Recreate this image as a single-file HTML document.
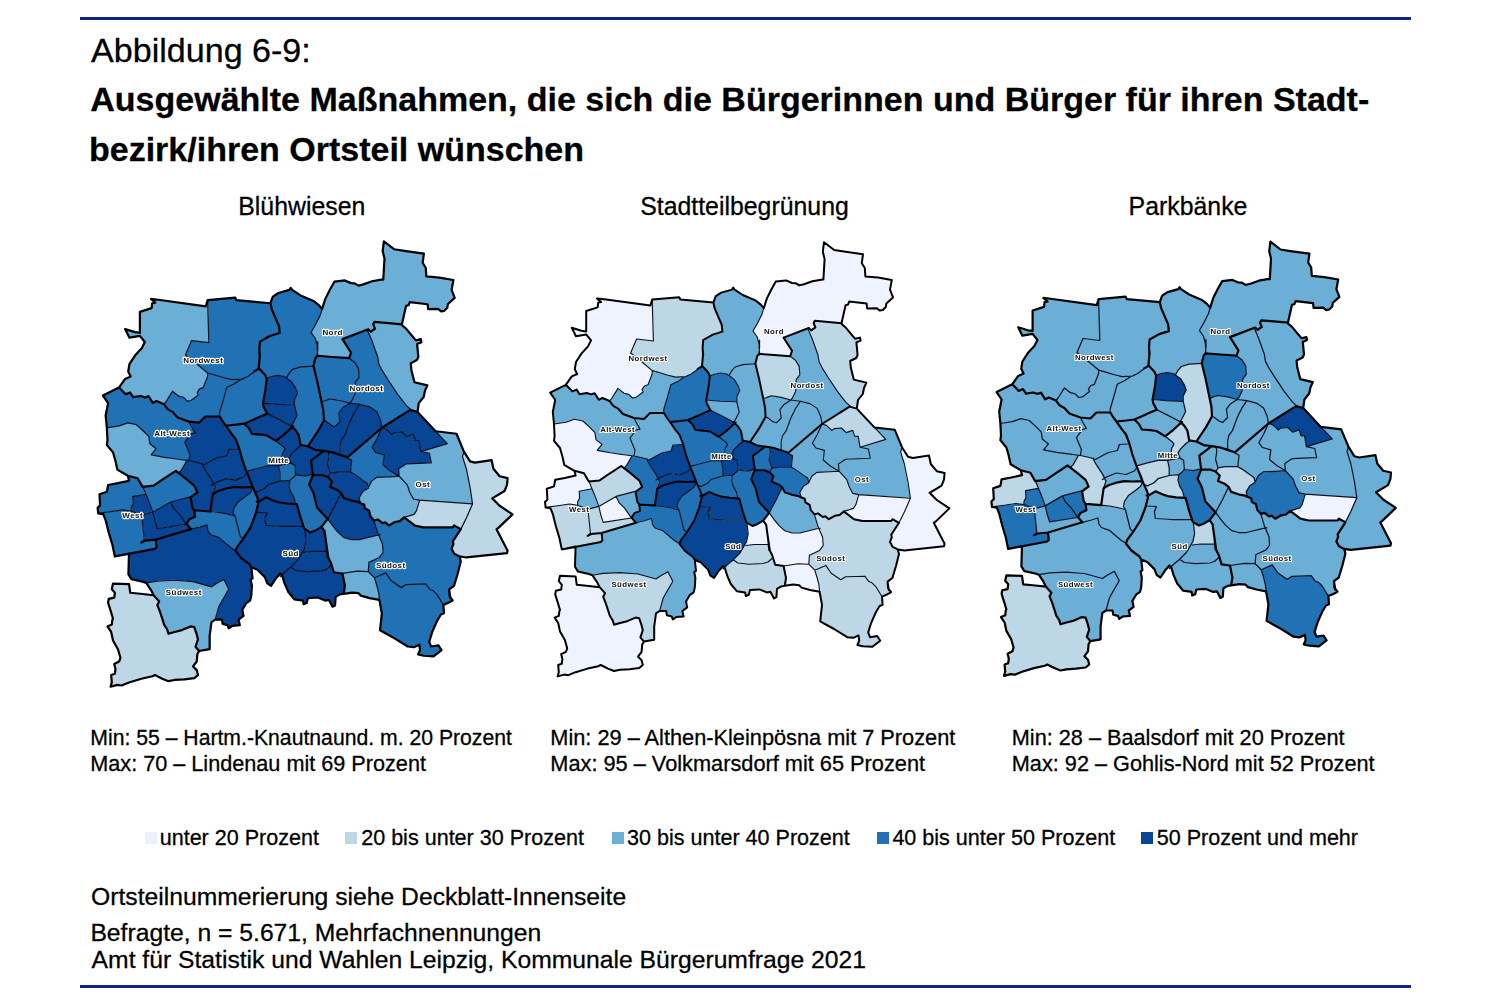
<!DOCTYPE html>
<html lang="de"><head><meta charset="utf-8"><title>Abbildung 6-9</title>
<style>
html,body{margin:0;padding:0;background:#fff;}
body{width:1500px;height:1000px;position:relative;overflow:hidden;font-family:"Liberation Sans",sans-serif;color:#000;}
.rule{position:absolute;left:80px;width:1330.5px;height:3.1px;background:#0f2380;}
.t{position:absolute;white-space:nowrap;line-height:1;-webkit-text-stroke:0.28px #000;}
.h1{font-size:34.1px;left:91px;}
.h2{font-size:34px;font-weight:bold;}
.mt{font-size:24.85px;text-align:center;width:400px;}
.cap{font-size:21.65px;}
.leg{font-size:21.55px;top:827.2px;}
.ft{font-size:24.7px;left:91px;}
.sw{position:absolute;width:12px;height:12px;top:832.3px;}
svg{position:absolute;left:0;top:0;filter:blur(0.35px);}
.lb text{font:bold 7.8px "Liberation Sans",sans-serif;letter-spacing:0.42px;fill:#111;text-anchor:middle;dominant-baseline:central;stroke:#fff;stroke-width:2.2px;paint-order:stroke;stroke-linejoin:round;}
</style></head><body>
<div class="rule" style="top:16.8px"></div>
<div class="rule" style="top:984.5px"></div>
<div class="t h1" style="top:32.7px">Abbildung 6-9:</div>
<div class="t h2" style="left:90.3px;top:82.2px">Ausgewählte Maßnahmen, die sich die Bürgerinnen und Bürger für ihren Stadt-</div>
<div class="t h2" style="left:89px;top:132.2px">bezirk/ihren Ortsteil wünschen</div>
<div class="t mt" style="left:101.8px;top:195.3px">Blühwiesen</div>
<div class="t mt" style="left:544.5px;top:195.3px">Stadtteilbegrünung</div>
<div class="t mt" style="left:988px;top:195.3px">Parkbänke</div>
<div class="t cap" style="left:90.3px;top:726.9px;font-size:21.2px">Min: 55 – Hartm.-Knautnaund. m. 20 Prozent</div>
<div class="t cap" style="left:90.3px;top:752.9px">Max: 70 – Lindenau mit 69 Prozent</div>
<div class="t cap" style="left:550.3px;top:726.9px;font-size:21.76px">Min: 29 – Althen-Kleinpösna mit 7 Prozent</div>
<div class="t cap" style="left:550.3px;top:752.9px;font-size:21.76px">Max: 95 – Volkmarsdorf mit 65 Prozent</div>
<div class="t cap" style="left:1011.8px;top:726.9px;font-size:21.7px">Min: 28 – Baalsdorf mit 20 Prozent</div>
<div class="t cap" style="left:1011.8px;top:752.9px;font-size:21.7px">Max: 92 – Gohlis-Nord mit 52 Prozent</div>
<div class="sw" style="left:145px;background:#eef1fd"></div>
<div class="t leg" style="left:159.7px">unter 20 Prozent</div>
<div class="sw" style="left:345.3px;background:#bdd7e7"></div>
<div class="t leg" style="left:361.2px">20 bis unter 30 Prozent</div>
<div class="sw" style="left:611.5px;background:#6baed6"></div>
<div class="t leg" style="left:627px;">30 bis unter 40 Prozent</div>
<div class="sw" style="left:876.7px;background:#2171b5"></div>
<div class="t leg" style="left:892.4px">40 bis unter 50 Prozent</div>
<div class="sw" style="left:1140.7px;background:#084594"></div>
<div class="t leg" style="left:1156.8px">50 Prozent und mehr</div>
<div class="t ft" style="top:885.3px">Ortsteilnummerierung siehe Deckblatt-Innenseite</div>
<div class="t ft" style="top:921px;left:90.4px">Befragte, n = 5.671, Mehrfachnennungen</div>
<div class="t ft" style="top:948.3px;left:91.6px">Amt für Statistik und Wahlen Leipzig, Kommunale Bürgerumfrage 2021</div>
<svg width="1500" height="1000" viewBox="0 0 1500 1000">
<defs>
<path id="r2" d="M891.5,280 879,277.8 866,276.8 865,274.5 864.5,267.5 861.5,263 862.5,254.2 834.5,250.2 825,243 824,243 823,252.8 824.8,261 823.5,279.5 812.8,281.2 800.2,285.5 799,285.5 796,283.5 792.2,283.2 786.5,280.5 776.2,281.5 775.2,282.2 767,298 762.5,313.5 757.2,324 753.2,330.5 753.2,331.5 757.5,337.2 758.2,341 759.8,340.5 759.8,353.5 790.2,356 791.8,350.2 784.5,339.2 783.8,337.2 808.2,328 810.5,330 812,330 815,327.8 813.5,323 815.2,320.5 841.5,323 845.2,305.8 845.8,305 848,304.2 849.2,301.5 866,303.5 866.8,304.2 867.5,308.2 876.5,308 879.5,310.2 883.2,309.8 885.5,307.5 886.2,304 892.5,298 892.5,296.2 890,290Z"/>
<path id="r3" d="M733.8,288.2 732.8,288.2 731.8,289.8 721.5,292.5 715.8,296.5 713.8,302 714.5,308 721.8,324.5 722.8,331 721.8,332 712.2,334.8 703.5,340 702.8,346 703.5,354.5 702.2,366.2 708.2,372.5 709.5,375.5 720.5,372.8 725.8,373.5 729.2,375 731.2,371.5 735.8,366.5 742.8,364.2 755.5,363.5 757,356.5 758.8,354.2 759,346.5 757.5,338 753,330.8 756.8,324.8 761.8,314.8 763.5,307.8 760.8,304.5 755.5,300.5 742.5,295 735.2,290Z"/>
<path id="r4" d="M652.5,299.8 653.8,340.5 653,341.2 636.5,339.2 631.2,351.2 631,353.2 652.2,370.8 674.5,376.8 686.2,376.5 692,373.5 697.2,369.8 697.5,368.5 701.8,365.8 702.8,356.8 702.2,347 703.2,340 713.5,334 722.2,331.5 721.5,324.5 714.2,308 713.5,302.8 682.5,300 680.5,299.5 679.2,297.5Z"/>
<path id="r5" d="M599,299 599,300 601,302 598.5,302.5 597.2,307.8 586.5,311 586.5,331 586,331.5 581.5,331 572.8,328.5 572.8,329.8 576,336 586.2,334.5 591,340.8 588.2,346.2 581.8,353 576.2,361.5 575,369.8 577.2,374 571.8,376.5 566,384.2 566,385.2 572,391.2 576.5,389.5 579.2,394 586.8,392.8 590.5,394.2 594.5,393.2 598.5,399.2 603,398 607.8,400.2 610,400.5 618,388.5 623.8,393 628.5,394.2 632,397.8 636.2,397.2 642.8,392.2 642,389.5 644.2,386.2 648,384.5 652,374.5 652,370.5 631.2,353.8 630.5,352.5 636.5,339 653.2,340.8 652.2,304.2 651,304 650.5,305.5Z"/>
<path id="r6" d="M814.8,321 813.8,323.8 815.5,327.5 811.5,330.5 809.2,328.2 808.2,328.2 808.2,329.5 812.5,339 818.2,355 819.2,362 827.8,377 837.8,392 845.2,401.8 850.5,406.8 856.8,408.2 857.8,400.2 862.5,394.5 863.8,388.2 866,382.5 855,380 853.5,379 850.5,367.2 850,361.5 850.5,360.8 856.2,358 857.2,356 856.2,343 860.2,340.5 860,338 855.5,338.8 841.5,323.5Z"/>
<path id="r7" d="M806.2,329 784.2,337.2 784.2,338.8 792,350.8 790.8,356.5 795.8,360.8 799.5,366.8 800,374.5 796.5,379 795.8,391.2 791.5,398.8 791.5,400 800.2,401 809.8,403.2 816.8,408 820.8,416.2 822,423.2 823.2,423.2 849.5,406.5 849.5,405.5 845.8,402.2 837.2,391.2 821.8,367.2 818.8,361.2 817.8,354.5 811.2,336.5 808,329.2Z"/>
<path id="r8" d="M758.2,354.8 757.2,356.2 755.8,364.8 763.2,398.2 771.8,395.5 781.2,397 789.2,399.5 791,399.5 795.2,392 796,379.8 799.5,375.2 799,366 795.8,360.8 790.5,356.5 761,354Z"/>
<path id="r9" d="M755.5,364 742.2,364.8 735.2,367 731.8,370.8 729.5,374.5 729.5,375.8 734.8,379.8 738.5,386.2 739.8,390 737,396 737,402.8 739.2,412.2 734.2,421.2 734,422.8 734.8,422.8 735,423.8 738.2,426.8 741.2,431.5 742.8,440.5 750.2,441.8 759.2,428 765.2,417.2 764.8,406.2Z"/>
<path id="r10" d="M703.2,367 701.5,367.2 691.5,374 684.5,377 678.2,381.2 670.8,385 668,396.2 663.8,409.5 664,413 669.8,421.8 688.5,419.8 710,410.2 710,409.2 706.5,403.2 706,400.2 708.2,388 709.5,375.5 707.8,371.8Z"/>
<path id="r11" d="M683,377 675.8,377.2 654.2,371.2 652.5,371.2 652.5,373.8 648.2,384.5 644,386.5 642.2,389 643.2,392 636.2,397.5 632.5,398 629.2,394.8 624.2,393.5 619,389.2 617.5,389.2 612.2,397.8 609.8,400.5 609.8,401.5 613.2,405.8 617.8,408.2 622.8,413.8 633.5,417.8 644.5,418.8 650.5,412.8 663.5,412.8 663.2,410 666.8,399.5 670.5,385 683,378Z"/>
<path id="r12" d="M710,376 706.5,399.8 718.2,401 736.5,401.5 736.5,396.8 739.5,391 737.8,385 734.5,379.5 728.2,375 725.5,373.8 719.5,373.2Z"/>
<path id="r13" d="M550.8,392.2 551,393.8 555.2,400 553,411 554.2,423.8 565.5,422.2 574.5,419 582.2,420.8 595,433 596.2,439.8 602,444.5 598.5,448.8 598,450.5 618.8,454 634,455.8 634.8,449.5 630,438 635.8,430.2 639.5,429 639.5,428 633.8,418 623.2,414.2 618,408.5 613.5,406 609.5,401 603,398.2 598.8,399.8 594.8,393.8 591,394.8 587.2,393.2 579.5,394.2 576.8,390 575.5,390 572.8,391.5 566.2,385 565.2,385Z"/>
<path id="r14" d="M763.5,398.8 765.2,407.2 765.8,416.8 772,421 777,422.5 781,418.5 779.8,409.8 783.2,405 789.2,401 789.5,399.8 780.8,397.2 772.8,396 770,396.2Z"/>
<path id="r15" d="M706.5,400.2 707,404 710.5,410.2 722.5,416 732.8,421.8 734.2,421.5 739,412.5 736.8,402 719.2,401.5Z"/>
<path id="r16" d="M799.8,401.2 790.5,400.2 783.5,404.8 780.2,409 781.2,417.8 776.2,422.8 773.5,422 768,418 765.2,417.2 759.8,427.2 750.8,440.8 750.5,442.2 756.8,445.2 774,447.8 781,450 781,442 782.2,436.2 785.8,431.8 790.2,418.8 795.2,408.8 799.8,402.5Z"/>
<path id="r17" d="M817.2,408.5 810,403.5 800.2,401.5 795.8,408 791,417.5 786.2,431 782.8,435.5 781.5,441 781.5,450.5 787,452.2 789,452.2 821.8,424.2 820.8,417Z"/>
<path id="r18" d="M823.2,423.2 823.2,424.2 826.2,425 831,430 832.2,430 834.5,428.2 841,427.8 845.8,432.2 852.8,430.5 854.5,436 857.8,436.2 858.5,437 860,446.8 861.5,446.8 885,439.5 885,438.5 857.2,409 851,407 848.2,407.2Z"/>
<path id="r19" d="M688.8,419.8 688.8,421 692.8,424.8 695.5,429.8 709.8,431.2 718,436.2 719.8,436 726.5,431 734.2,423.8 734.2,422.5 711,410.5 705,412.5Z"/>
<path id="r20" d="M664,413.2 649.5,413.2 643.5,419.2 634.8,418.2 634.8,419.5 640,428.8 636,430 630.2,437.5 630.5,439.2 635,449.5 634.2,456 649.5,459.8 662.2,452.8 670.8,451 672.5,445.8 673.5,444.8 682.5,444.2 679.2,434.5Z"/>
<path id="r21" d="M554.2,424.2 554.8,433.8 554.2,441.2 560.5,448.8 564.2,464.5 574,470.5 583.8,473 588.8,481.2 599.8,480.2 621,466 623.2,467.5 624.8,467.5 626.2,466 631.5,457 631.5,455.8 619.8,454.5 597.8,450.8 598,449.5 601.5,445.2 601.5,444.2 596,439.5 594.5,432 583.2,421.2 574,419.5 566,422.5Z"/>
<path id="r22" d="M670.8,422 670.8,423.2 680,435.8 690,466 711.5,460.5 722.2,460.5 725.8,459.8 724.5,453 725,449 727.2,445.2 727.2,444.2 726,442.5 718.8,436.8 710.5,431.8 695.5,430 692.2,424 688.5,420.2Z"/>
<path id="r23" d="M735.2,423.5 734.2,423.5 725.2,432 719.5,436.2 719.5,437.2 725.2,441.8 727.5,444.8 725.5,448.2 725,454.5 726.2,459.5 733,458.5 731.5,454 733.8,449.8 742.8,441.5 740.8,430.8 737.8,426Z"/>
<path id="r24" d="M812.8,442.8 812.8,443.8 815.8,447.8 824.5,450.5 823.5,460.2 830,465.8 837.8,470.5 838.8,470.5 838.5,464 845.8,459 869.8,458 868.5,449.2 861.2,447.8 859.8,446.8 858.2,436.8 854.2,436 852.8,431 846.2,432.5 842,428.2 834,428.8 831.8,430.2 827,425.5 822,424.5 817,435.5Z"/>
<path id="r26" d="M820.2,426.5 818.8,426.8 788.8,452.5 789,453.8 792.8,456.2 791.8,467.2 807,477.5 808.5,481 809.5,481 811.8,476.2 817,472.2 837.2,471.2 837,470 829.5,465.5 823.2,460 824.2,450.5 816.2,448.2 812.5,443.2 817.2,434.8 820.2,428Z"/>
<path id="r27" d="M838.8,464 839.2,471.8 847,479.8 849.5,487.2 853,493.5 860,494.5 910.2,498 904.5,464.2 900.2,452 901.8,446.8 894.8,430 875.8,428 875.8,429 885.8,439.5 862.5,446.8 862.5,447.8 867.2,448.5 868.8,449.5 870.2,457 869.8,458.5 845.2,459.5Z"/>
<path id="r28" d="M743.2,441.2 739,444.2 734.2,449 731.8,453 732,454.8 733.5,458.5 737.5,461.2 738.5,470 747.8,471 754.2,469.5 752.8,456.2 763.8,447.8 764,446.5 757.5,445.8 749.8,442Z"/>
<path id="r29" d="M683,444.8 673,445.2 671,451 661.5,453.2 649.2,460 647.5,460 647.8,461.8 656.2,474.8 657.8,478 659.2,478 670.2,473.2 680,474.8 688.5,471 690.2,468.5 690.2,467.2 685.8,455Z"/>
<path id="r30" d="M765,446.8 753.2,455.8 754.8,469.8 764.5,470 769.8,471.8 771.2,469 769,460 770.2,450.5 769.2,447.2Z"/>
<path id="r31" d="M770,447.8 770.8,451.8 769.5,460.8 771.5,468.2 778.8,467 791.2,467 792.2,457.5 791.8,455.2 786.8,452.2 773.8,448Z"/>
<path id="r32" d="M901.8,448.5 900.8,452.5 904.8,464 910.8,498 905.2,510.8 899.2,522.5 891.5,534.2 892,537.2 890.2,542.5 892.8,546.8 897.2,549.2 903.2,550.2 944,546 944.2,543.2 933.8,522.8 948.8,509.2 948.8,508 937.2,500.5 929.8,492.8 941.5,485.5 943.8,480 944.2,473 936.5,471 930.5,463.8 929,455.8 913,458.2 909.8,457.5 907.8,456.5 903,448.8Z"/>
<path id="r33" d="M632,456 626.8,465.2 624.5,467.2 624.5,468.2 639.5,480.8 642.2,487 635.8,491.8 637.8,502.5 639,504.2 654.5,505.2 657,488.8 659.2,481 658.5,479.5 657.5,479 657.5,477.5 655.8,474 648,462.2 647,459.5 641.8,457.8Z"/>
<path id="r34" d="M736.8,460.5 733.8,458.8 721.5,460.8 723,468 723,475.8 732.8,475 736.5,472 737.8,470Z"/>
<path id="r35" d="M721.2,461 710.8,461 690.5,466.5 697.8,485.2 701.8,486.2 708,483 711.8,479 722.5,476 722.5,467Z"/>
<path id="r36" d="M639.2,480.5 622,466.5 620.5,466.5 599.8,480.5 589.8,481.5 589.2,482.8 595.2,496 598.5,505.8 600,505.8 616.2,496.2 636.2,491.2 641.8,487.2 641.8,486Z"/>
<path id="r37" d="M771.2,469 769.8,472.8 773.5,476.5 772,480.2 772.2,481.8 778.5,484.2 781.8,486.8 785,492.5 792.2,494.8 800.5,496 799.8,492.2 803.2,486.5 808.2,483 807.5,478.2 792,467.5 777.5,467.5Z"/>
<path id="r38" d="M695.5,480 691,469 689.8,469 687.8,471.8 679.2,475.2 669.5,473.8 659.5,477.8 658.5,478.5 659.5,482.2 658,487.5 659.2,487.5 662.8,485.2 678,481.2 683.5,481.8 695.5,481.2Z"/>
<path id="r39" d="M737.5,470.2 736.8,471.8 732.5,475.5 731.8,479.8 732,482.2 733.5,487 736.8,492.2 737.8,497.8 739.5,498.8 742.8,511.2 746.5,522.2 752,525.8 753,525.8 757.8,524 763.2,520.5 769,513.2 769,512.2 758.8,501.5 755.5,487.5 751.2,479.5 754.2,471.5 754.2,470 746.8,471.5Z"/>
<path id="r40" d="M754.8,470.5 751.5,479.8 755.8,487.8 759,502 768.5,512 769.5,512 775.8,501 782,488.2 782,487.2 778.8,484.5 771.5,481.5 773.2,475.8 769.8,472.2 765,470.5Z"/>
<path id="r41" d="M583.8,473.2 575,471.2 575.5,474.5 575,475.8 555.5,479.8 554,486.5 547,488.8 547.8,499 545.2,501.5 545.8,507 569.2,503.8 577.2,505 577.2,502.2 579.2,498.5 579,491.8 580.5,490.8 591.5,488.8 589.5,483.2 589.8,481.8 588.5,481.2Z"/>
<path id="r42" d="M839.2,471.5 816,473 812,476 808.8,482.8 803.5,486.2 800,492 801,495.5 800.8,497.2 804.8,498.8 805.5,502.2 809.5,504.8 810.8,510.2 814.2,514.2 818.2,513.5 822,516.5 825.2,516.2 828.2,518.8 829.5,518.8 835,515.5 839.8,514.8 844.5,511 853.2,508.5 855.5,505.2 858.2,494.5 852.5,493.2 848.8,486 846.5,479Z"/>
<path id="r43" d="M732,475.5 722,476.2 711,479.5 707.2,483.5 701.5,486.5 698.8,486.2 702,495.5 703.8,495.2 709.5,491.8 715.2,494.5 721.8,496.5 737.5,498 736.2,491.5 732.8,485.8 731.2,480.8Z"/>
<path id="r44" d="M696.2,482 677,481.8 661.5,486 657.2,489.2 655,505.2 663,506.2 677.8,509.2 677,507 677.8,502.2 681.8,496.2 693.8,487.2 696.2,483Z"/>
<path id="r45" d="M697,483.8 695.8,483.8 693.2,487.8 682,496 678,502.2 677.2,507.5 679.2,510.2 684,530 686.2,531.5 687.5,531.2 694,521 699,508 701.8,497.2 700.2,490.8Z"/>
<path id="r46" d="M781.8,488.2 776.2,500.2 769.5,512.2 770,514 778,524.8 784.5,530.5 791.5,532.8 801,532.8 818,528.5 818.2,527.2 814.2,514 810.8,510.2 809.5,504.8 805.5,502.5 804.8,499 800.2,497.2 799.8,496.2 792,495 785.5,493 784.5,492.2 782.8,488.2Z"/>
<path id="r47" d="M592,489 579.5,491.2 579.8,497.8 577.8,501.5 577.8,505.2 587.5,509 598.2,506.5 595.5,497.2Z"/>
<path id="r48" d="M635.5,492 633.5,492 616.5,496.5 616.5,497.5 619.5,503.2 625,508.8 630.8,517 631.8,517 634.8,513 639.8,510.8 639,504 637.2,501.8Z"/>
<path id="r49" d="M702.2,495.8 699.8,506.2 709.5,506.8 710,507.2 708.2,511.5 709.2,518.8 722.5,519.8 745,519.8 739.2,498.8 721.2,496.8 716.5,495.2 709.8,492 708.8,492 703.5,495.5Z"/>
<path id="r50" d="M844.8,512.2 853.8,519 861.5,520.8 891.5,520.8 892.8,519.2 898,522.2 899.2,522.2 905.5,509.8 909.8,500 909.8,498.5 858.8,494.8 856.2,504 853.8,508.2 844.8,511.2Z"/>
<path id="r51" d="M616.2,497 613.8,497.8 599,506.5 600.8,514.8 603.2,522.2 631,518 631,517 624.5,508 619,502.5Z"/>
<path id="r52" d="M549.2,507 549.2,508 550.8,508.5 553,514.2 555.8,526 559.8,538 561.8,549 600.5,542 602.2,540.8 601.2,533.2 592.2,534 589,535.2 588.2,535 590.2,533.5 587.8,509.2 578,505.5 570.8,504.2Z"/>
<path id="r53" d="M639.5,504.8 640,510.8 634.5,513.2 631.8,517 631.8,518 635.8,522.5 651.2,518.5 652.8,525 654.8,527.8 662.8,530.5 675,541 678.5,543 679.8,543 680.8,540.2 686,533.5 686.5,531.8 683.8,529.5 679,510 662.2,506.5Z"/>
<path id="r54" d="M699.5,506.8 694.2,520.8 687.2,531.8 681.2,539.5 679.8,544.5 685,551 693.2,557.2 694.8,560 700.5,562.2 708.2,569.8 710.5,575.5 713.2,577.5 714.2,577.5 718.5,571 723,566.2 724,567.2 725,567.2 739.8,553.5 746,543 748,535 747,523.8 745.5,520.2 723.8,520.2 709.5,519.2 708.8,518.5 707.8,512.2 709.5,507.2Z"/>
<path id="r55" d="M588.2,509.2 590.8,533.8 602,532.8 635.2,522.8 635.2,521.8 632,518.2 603.2,522.5 600.5,514.8 598.8,507Z"/>
<path id="r57" d="M815,514.5 818.2,527 822.8,537.5 823.5,545.2 819.2,550.8 809.8,555.2 809,564.8 814.2,570 825.8,565.5 831.2,573.2 840,579.2 841.5,579.2 846,576.5 864.2,576 868.8,581.5 871.8,582.5 876.2,587 881.8,596.2 884.2,595.8 890.2,592.8 890.5,591.5 888.5,589.5 887.8,587.8 887.5,581.5 892.5,577.8 896,566 898.8,553.2 897.8,549.8 892.5,546.5 890,541.5 891.5,537.8 891.2,534.8 898.2,524 898.5,522.5 893.5,519.8 892,519.8 890.8,521.2 862.5,521.2 853.8,519.2 844.2,512 843.2,512 839.2,515.2 834.2,516 829,519.2 825.8,516.8 822.5,517 818.2,513.8Z"/>
<path id="r58" d="M768.5,513.5 763.5,520 763.5,521 766.5,525 769.8,550 772.8,556 775.2,564.5 784.8,565.8 797.8,563.5 808.5,564 809.5,555.2 819.5,550.5 823,546 822.2,536.8 819,529 815.8,529 799.8,533.2 792,533.2 784.2,530.5 778.5,525.2 770.2,514Z"/>
<path id="r59" d="M575.8,546.8 575.2,567.2 578,571.5 588.8,573.8 592,575 603.2,573.2 618.5,572.2 635.8,573.5 655.2,578.8 656.8,578.5 667.8,571.8 672.8,581.5 663.5,597.5 660,610.8 665.8,610.8 666.5,611.5 667,615.2 671.2,616.2 672.5,618.8 673.8,618.8 676.8,616.8 683,616.2 682.5,611 687,607.5 686,601.2 689.8,595 693.5,592.5 694.5,588.5 695.2,577 694.2,572 695.8,570.8 694.5,559.5 693,557 684.8,550.8 679,543.2 674.5,540.8 663.2,531 655.2,528.2 652.2,524.2 651.5,519 636,522.8 601.8,533 602.5,540.5 600.5,542.2Z"/>
<path id="r60" d="M763.5,521 762.5,521 757.5,524.2 753,526 748.8,523.8 747.5,523.8 748.5,534 746.8,541.8 745,544.5 745,545.8 753.8,544.2 767,544.2 768.5,544.8 766.2,525.2Z"/>
<path id="r62" d="M772.8,557 769,549.5 768.5,544.2 767,544.8 752.5,544.8 748.2,545.5 744.8,545 740.2,552.8 733.8,559 733.8,560 738.8,563 747.5,564 761,563.5 768.2,561.8 771.5,558.8 772.8,558.5Z"/>
<path id="r64" d="M783.5,566.2 775.2,564.8 773.2,558.5 772,558.2 768.5,561.8 764.8,563.2 750.8,564.5 738.2,563.2 734.2,560.5 732.8,560.2 725,566.8 725,568.2 731,584.5 736.5,591 744.8,592.2 745.5,593 745.8,595.5 746.8,595.5 748.8,594.5 750,590 759.2,589.2 766.2,592.2 770.5,591.8 773.8,598 775,598 776.2,597.2 777,588.8 781.5,586.2 784.8,585.5 785.8,577Z"/>
<path id="r65" d="M784,566 784,568.2 786.2,578 785.2,585.2 793,584.2 798.8,585 801,587.2 810.2,590 819.2,591.2 818.8,584.2 814.5,569.8 809.2,564.5 796.8,564Z"/>
<path id="r66" d="M815.5,570 815.2,571.5 819.2,585.5 819.8,592.8 822.2,604.8 820.5,621.2 834.2,629 846.8,637 853.8,637.5 858.2,635.5 859.5,640.5 858,645 861.8,646 872.8,646.5 879,641.8 879.8,640 877.5,636.2 870,637.2 868,632.5 870.8,623.5 876,611.8 879.2,606.2 882.2,604.8 881.8,596.2 875.8,586.2 872.5,583 869,581.8 865,576.5 845.2,577 840.5,579.8 831.8,573.8 826,566 824,566.2Z"/>
<path id="r67" d="M668.2,572.5 667,572.2 656.2,579 638.8,574.2 622,572.8 602,573.8 593.2,575.2 593.2,576.5 597.5,582.8 599.8,587.8 605,593.2 603.5,597.2 610,616.2 613,620.8 614,624.2 627.2,621.2 635.2,617.5 639.2,618.2 643,630.2 640.8,638 643.8,641.2 654,639.8 654,626.2 655.8,614 659.5,610.8 663,598.2 672.5,581.8 672.5,580.8Z"/>
<path id="r68" d="M560,576 559,581.8 562,585 561.5,589 560,590 556,590.8 555.5,593.2 555.8,596 560,610.2 558.8,615.8 555.2,617.2 555.2,618.8 558.5,623.2 560.2,632 565.2,640.5 567.5,648.2 566.2,651.5 561.8,654 562.8,659.2 561.8,663.8 558.5,665 559,672.2 558.2,675.8 564.2,674.2 569,675 576.2,671.8 587.5,668.2 598.2,666.2 600.5,665 613.5,670.8 620,669.5 638.8,668 642.5,665.2 641.2,659.8 638,656.5 641.2,652.2 642,644.8 643.8,642 643.8,641 640.5,637.5 642.5,629.5 639.2,618.5 635,617.8 627,621.5 614,624.8 612.5,620 609.2,615 603.2,597.2 604.8,592.8 599.8,587.5 577.2,585 576.2,583.2 575.2,576.8Z"/>
<path id="thin" d="M652.2,299.6 652.8,320 653.4,341 636.6,339 630.6,353 642,362 652.2,370.6 M652.2,370.6 660,372.8 667.2,375 675.6,377.1 685.8,376.6 691.2,374 697.2,369.8 702.6,366.8 M652.2,370.6 652.2,374 648,384.8 644.4,386 642,389.6 643.2,392 636,397.4 632.4,398 628.8,394.4 624,393.2 618,388.4 612,398 609.6,401 M684.6,376.9 678,381.2 670.8,384.8 667.2,398 663.6,410 664,413.6 M763.8,308.2 762,314.2 757.2,323.8 753,331 757.2,337 759,344.2 759.6,355 M807.8,328.6 812,338.2 M710.4,410.2 721.2,415.6 733.8,422.2 M697.2,368.8 702,365.8 M709.8,376 714.6,374.2 720.6,373 726,373.8 729,375.4 731.4,371.2 735,367 742.8,364.6 755.4,363.8 M759.6,340 759.6,347.2 759,353.8 M790.2,356.2 795.6,360.4 799.2,366.4 799.8,374.8 796.2,379.6 795.6,391.6 792.6,397.6 790.8,400 M763.4,398.8 766.8,397.4 771.6,395.8 781.2,397.4 790.8,400 800.4,401.2 810,403.6 817.2,408.4 820.8,416.8 822,424 M812,338.2 818,355 819,361.6 822,367.6 828,377.2 837.6,391.6 846,402.4 850.2,406.2 M790.8,400 783.6,404.8 780,409.6 781.2,418 776.4,422.8 772.8,421.6 768,418 765.6,416.8 M800.4,401.2 795.6,408.4 790.8,418 786,431.2 782.4,436 781.2,442 781.2,450.4 M822,424 817.2,434.8 812.4,443.2 816,448 824.4,450.4 823.2,460 M729,375.4 734.4,379.6 738,385.6 739.8,390.4 736.8,396.4 736.8,401.8 739.2,412 736.2,418 733.8,422.2 M706.2,400 720,401.2 736.8,401.8 M822,424 826.4,425.4 831.8,430.4 834.2,428.6 841.4,428 846.2,432.6 852.8,430.4 854.6,436.2 858.2,436.4 860,447.2 885.8,439.4 874.4,427.4 M860,447.2 868.4,449 870.2,458.2 845.6,459.2 838.4,464 M838.4,464 839,471.2 846.8,479.6 849.2,486.8 852.8,493.4 858.8,494.6 910.4,498.2 M902,447.2 900.6,452 904.4,464 908,482 910.4,498.2 M823.2,460 830,465.8 839,471.2 M839,471.2 830,471.8 816.8,472.4 812,476 809,482 M910.4,498.2 904.4,512 899,522.8 M858.8,494.6 855.8,504.8 853.4,508.4 843.8,511.4 M814.4,514.4 818,526.4 M800,533 816.8,528.8 820.4,528.3 M769.8,447.8 770.4,451.6 769.2,460 771.6,468.4 769.8,471.8 M771.6,468.4 778.8,467.2 791.4,467.2 M787.2,452.8 792.6,455.8 791.4,467.2 M791.4,467.2 795.6,469.6 804,475.6 807.6,478 808.8,482.8 M808.8,482.8 803.4,486.2 799.8,492.4 801,496.4 M781.8,488.2 776.4,499.6 769.2,512.8 M769.2,512.8 774,519.4 778.8,525.4 784.8,530.8 792,533 800,533 M690,466.4 702,463.2 711.6,460.8 721.2,460.8 M721.2,460.8 733.2,458.4 737.2,460.8 738,469.6 736.4,472 732.4,475.2 722.8,476 722.8,468 721.2,460.8 M718.8,436.8 726,442.4 727.6,444.8 725.2,448.8 724.8,453.6 726,459.2 M743.6,441 739.6,444 734,449.6 731.6,453.6 733.6,458.4 M738,470 746.8,471.2 754.8,469.4 M722.8,476 711.6,479.2 707.6,483.2 701.2,486.4 697.6,485.2 M732.4,475.2 731.6,480.8 733.2,486.4 736.4,492 738,499.2 M634,418 636,422 640,429 636,430 630,438 632,443 635,450 634,456 M634,456 643,458 649,460 658,455 662,453 671,451 673,445 682.5,444.5 M554,424 566,422.2 574.4,419.2 582.8,421 588.8,426.4 594.8,432.4 596,439.6 602,444.4 597.2,450.4 610.4,452.8 620,454.2 634,456 M632,456 626.6,465.4 624.2,467.8 M647,458.6 647.6,461.2 651.2,467.2 656,474.4 659.6,481.6 657.2,488.8 M545.6,507.4 556,506 569.6,504 577.6,505.2 M592,488.8 579.2,491.2 579.6,498 577.6,502 577.6,505.2 M589.6,482.8 592,488.8 595.2,496.4 598.8,506.4 M577.6,505.2 588,509.2 591.2,508.4 598.8,506.4 M588,509.2 589.2,521.2 590.4,533.2 587.6,535.8 M598.8,506.4 616,496.4 619.2,502.8 624.8,508.4 631.2,517.6 636,522.8 M598.8,506.4 600.8,514.8 603.2,522.4 631.2,518 M616,496.4 635.2,491.4 M592.4,575.2 603.2,573.4 620,572.6 638,574 656,579 660.8,575.8 668,571.8 M696.4,482.4 694,487 689,491 682,496 678,502 677,507 679,510 M654.8,505.6 663,506.5 671,508 679,510 M679,510 681,518 684,530 687,532 M636,522.8 645,520.5 651.5,518.5 652.5,524.5 655,528 663,530.8 669,536 675,541 679.7,543.8 M699.5,506.5 710,507 708,512 709,519 725,520 745,520 M747,523 748.2,534 746.5,542 740,553 733,560 727,565 723,569 M746,545.5 754,544.5 767.5,544.5 M733.5,560 738,563 749,564.2 763,563.5 768,562 772,558.5 M656,480 660,477.5 670,473.5 679.5,475 688,471.5 690.5,468 M783.6,566 798,563.8 808.8,564.2 M818,526.4 822.6,537.2 823.2,545.6 819.6,550.4 809.4,555.2 808.8,564.2 M808.8,564.2 814.8,570.2 817.2,578 819,585.2 819.6,591.8 M814.8,570.2 825.8,565.4 831.2,573.2 840.8,579.8 845.6,576.8 864.8,576.2 868.8,581.6 872,582.8 M668,571.9 672.8,581.2 668,589.6 663.2,598 659.6,611 M872,582.8 876,586.8 879.6,592.8 882,596.6" fill="none" stroke="#04101f" stroke-linejoin="round" stroke-linecap="round"/>
<path id="thick" d="M550.2,392.6 565.8,384.8 571.8,376.4 577.2,374 574.8,369.2 576,362 581.4,353.6 588,346.4 591,340.4 586.2,334.4 576,336.2 571.8,327.8 581.4,330.8 586.2,331.4 586.2,311 597.6,307.4 598.2,302.6 601.2,302 597,298.4 602.4,299 650.4,305.6 652.2,299.6 679.2,297.2 680.4,299.6 713.4,302.6 M565.8,384.8 572.4,391.4 576.6,389.6 579.6,394.2 586.8,393 591,394.4 594.6,393.2 598.8,399.8 602.4,398 609.6,401 613.2,405.8 M713.4,302.4 715.8,296.2 721.2,292.6 732,289.6 733.2,287.6 734.6,289.6 742.8,295 755.4,300.4 760.8,304.6 763.8,308.2 766.8,298.6 771.6,289 775.8,281.6 786,280.4 792,283 795.6,283.2 799.2,285.4 804,284.2 812.4,281.2 822.6,279.4 M713.4,302.4 714.6,308.2 718.2,316.6 721.8,325 722.4,331.6 712.8,334.6 703.2,340 702.6,347.8 703.2,355 M841.8,323.2 814.8,320.8 813.6,323.2 815.4,327.4 811.2,330.4 808.8,328 783.6,337.6 M823.4,279.6 824.6,259 822.8,251.8 824,242.2 834.2,250 845.6,251.8 863,254.2 861.8,263.2 864.8,268 865.4,276.4 878,277.6 891.8,280 890,289.6 893,297.4 886.4,303.4 885.8,307 882.8,310 879.8,310.6 876.8,308.2 867.2,308.4 866.6,303.6 849.2,301.6 848,304.6 845.6,305.2 841.4,323.8 845.6,327.4 851.6,334.6 855.2,338.8 860,337.6 860.6,340.6 856.4,342.4 857.6,355 M703.2,340 702.6,347.8 703,355 702,365.8 708,372.2 709.8,376 708.6,386.8 706.2,400 706.8,403.6 710.4,410.2 M733.8,422.2 738,426.4 741,431.2 742.8,440.8 750,442 M783.6,337.6 792,350.8 790.2,356.2 774,355 759,353.8 757.2,356.2 755.4,363.8 759,378.4 762,392.8 765,407.2 765.6,416.8 759.6,427.6 750,442 M750,442 757.2,445.6 766.8,446.8 774,448 781.2,450.4 788.4,452.8 822,424 849.6,406.6 M856.4,342.4 857.6,355 856.2,358 850.2,361 850.8,367.6 853.8,379.6 866.4,382.6 864,388 862.8,394 858,400 856.8,408.6 M849.6,406.6 856.8,408.6 M856.8,408.6 874.4,427.4 894.8,429.8 902,447.2 908,456.8 912.8,458 929,455.6 930.8,464 936.8,471.2 944.6,473 944,479.6 941.6,485.6 929.6,492.8 936.8,500 M936.8,500 949.4,508.4 935.6,521.6 933.8,522.8 944.6,543.8 944,546.2 904.4,550.4 897.8,549.4 899,554 896,566 892.4,578 887.6,581.6 888.8,590 M800,497 804.8,498.8 805.4,502.4 809.6,504.8 810.8,510.2 814.4,514.4 818,513.4 822.8,517 825.2,516.2 828.8,519.2 834.8,515.8 839.6,515 843.8,511.4 854,519.2 862.4,521 891.2,521 892.4,519.2 899,522.8 891.2,534.8 891.8,537.2 890,542 892.6,546.8 897.8,549.4 M765,446.8 757.2,452.8 753,455.8 753.6,461.2 754.8,470.2 M754.8,470.2 751.2,479.2 755.4,487.6 759,502 769.2,512.8 M754.8,470.2 764.4,470.2 769.2,472 773.4,476.2 771.6,481.6 778.8,484.6 782.4,487.6 784.8,492.4 792,494.8 800,496.4 M769.2,512.8 763.2,520.6 766.2,524.8 768,538 769.2,550 M763.2,520.6 757.2,524.2 752.4,526 746.4,522.4 742.8,511.6 739.2,498.4 729.6,497.8 721.2,496.6 715.8,494.8 709.2,491.8 703.2,495.4 700.2,496 M690,466.4 694,476 696.4,482.4 700.4,491.2 702,496 M670,483.2 678,481.6 686,482 695.6,481.6 M718.8,436.8 726,431.2 735.6,422.4 M613.2,405.8 618,408.5 623,414 634,418 644,419 650,413 664,413 667,418 670,422 M670,422 680,421 688,420 695,417 702,413.8 710.4,410.2 M670,422 674.8,428.8 679.6,435 682.8,443.5 686,455 690,466.4 M688,420 692.5,424.5 695.5,430 704,430.7 710,431.5 718.8,436.8 M550.2,392.6 555.2,400 552.8,412 554,424 554.6,436 554,440.8 560,448 562.4,456.4 564.2,464.8 574.4,470.8 575.6,475.6 564.8,478 555.2,479.8 554,486.4 546.8,488.8 547.4,499.6 545,502 545.6,507.4 M574.4,470.8 584,473.2 588.8,481.6 599.6,480.4 609.2,473.8 621.2,466 626,469.6 632,474.4 639.2,480.4 642.2,487 635.6,491.8 637.4,502 639.2,504.4 654.8,505.6 M654.8,505.6 657.2,488.8 662,485.8 670,483.2 M587.6,535.8 591.2,534 601.6,533 636,522.8 M601.6,533 602.4,540.4 600.8,542 561.8,549.4 M639.2,504.6 640,510.8 634.4,513.2 631.6,517.6 636,522.8 M545.6,507.4 550.4,508.2 552.8,514 555.8,526 559.4,538 561.8,549.4 575.6,546.6 575.4,552.4 575,566.8 578,571.6 588.8,574 592.4,575.2 597.2,582.4 599.6,587.2 588.8,586 576.8,584.8 575.6,576.4 560,575.8 558.8,581.2 561.8,584.8 561.2,589.6 555.8,590.8 555.2,594.4 558.2,604 560,610 M599.6,587.2 605,593.2 603.2,596.8 605.6,602.8 608,610 M702,496.2 699,508 694,521 687,532 681,540 679.5,544 685,551 693,557 694.8,560 M768,538 769.8,550.4 772.2,555.2 775.2,564.8 783.6,566 786,578 784.8,585.8 M690,594.8 693.6,592.4 694.8,587.6 695.4,578 694.2,572 696,570.8 694.8,560 700.8,562.4 708,569.6 710.4,575.6 714,578 718.8,570.8 723,566 724.8,567.8 727.2,575.6 730.8,584 736.8,591.2 745.2,592.4 745.8,596 748.8,594.8 750,590 759.6,589.4 766.8,592.4 770.4,591.8 774,598.4 776.4,597.2 777,588.8 781.2,586.4 784.8,585.8 793.2,584.6 799.2,585.2 801.6,587.6 810,590 819.6,591.8 M560,610 559.4,611 558.8,615.8 554.6,617.6 558.2,623 560,631.4 564.8,639.8 567.2,648.2 566,651.8 561.2,654.2 562.4,659 561.8,663.8 558.2,665 558.8,672.2 557.6,676.4 564.2,674.6 568.4,675.2 575.6,672.2 587.6,668.6 598.4,666.2 600.8,665 608,668.6 614,671 620,669.8 629.6,669.2 639.2,668 642.8,665 641.6,660.2 638,656.6 641.6,651.8 642.2,644.6 644,641.6 654.2,639.8 654.2,626.6 656,613.4 659.6,611 666.2,611 666.8,615.2 671.6,616.4 672.8,619.4 676.4,617 683.6,616.4 682.4,611 687.2,607.4 686,601.4 690,594.8 M608,610 609.8,615.8 612.8,620.6 614,624.8 620,623 627.2,621.2 635.6,617.6 639.2,618.2 641.6,625.4 642.8,630.2 640.4,637.4 644,641.6 M887.6,581.6 888,588 891,592.2 888,594 882,596.6 882.6,604.8 879.6,606 876,612 871.2,622.8 868.2,632.4 870,637.2 877.2,636 880.2,640.8 872.4,646.8 862.8,646.2 857.4,645 859.2,640.8 858.6,635.4 853.2,637.8 847.2,637.2 834,629 820.2,621.4 822,604.8 819.6,591.8" fill="none" stroke="#000" stroke-linejoin="round" stroke-linecap="round"/>
</defs>
<g transform="translate(96.6,243.1) scale(1.026,1.026) translate(-544,-244)">
<use href="#r2" fill="#6baed6"/>
<use href="#r3" fill="#2171b5"/>
<use href="#r4" fill="#2171b5"/>
<use href="#r5" fill="#6baed6"/>
<use href="#r6" fill="#6baed6"/>
<use href="#r7" fill="#2171b5"/>
<use href="#r8" fill="#2171b5"/>
<use href="#r9" fill="#2171b5"/>
<use href="#r10" fill="#2171b5"/>
<use href="#r11" fill="#2171b5"/>
<use href="#r12" fill="#084594"/>
<use href="#r13" fill="#2171b5"/>
<use href="#r14" fill="#2171b5"/>
<use href="#r15" fill="#084594"/>
<use href="#r16" fill="#084594"/>
<use href="#r17" fill="#084594"/>
<use href="#r18" fill="#084594"/>
<use href="#r19" fill="#084594"/>
<use href="#r20" fill="#084594"/>
<use href="#r21" fill="#6baed6"/>
<use href="#r22" fill="#2171b5"/>
<use href="#r23" fill="#084594"/>
<use href="#r24" fill="#084594"/>
<use href="#r26" fill="#2171b5"/>
<use href="#r27" fill="#6baed6"/>
<use href="#r28" fill="#084594"/>
<use href="#r29" fill="#084594"/>
<use href="#r30" fill="#084594"/>
<use href="#r31" fill="#084594"/>
<use href="#r32" fill="#bdd7e7"/>
<use href="#r33" fill="#084594"/>
<use href="#r34" fill="#2171b5"/>
<use href="#r35" fill="#084594"/>
<use href="#r36" fill="#2171b5"/>
<use href="#r37" fill="#084594"/>
<use href="#r38" fill="#084594"/>
<use href="#r39" fill="#2171b5"/>
<use href="#r40" fill="#084594"/>
<use href="#r41" fill="#2171b5"/>
<use href="#r42" fill="#6baed6"/>
<use href="#r43" fill="#084594"/>
<use href="#r44" fill="#084594"/>
<use href="#r45" fill="#2171b5"/>
<use href="#r46" fill="#084594"/>
<use href="#r47" fill="#084594"/>
<use href="#r48" fill="#084594"/>
<use href="#r49" fill="#084594"/>
<use href="#r50" fill="#bdd7e7"/>
<use href="#r51" fill="#084594"/>
<use href="#r52" fill="#2171b5"/>
<use href="#r53" fill="#2171b5"/>
<use href="#r54" fill="#084594"/>
<use href="#r55" fill="#084594"/>
<use href="#r57" fill="#2171b5"/>
<use href="#r58" fill="#6baed6"/>
<use href="#r59" fill="#084594"/>
<use href="#r60" fill="#084594"/>
<use href="#r62" fill="#084594"/>
<use href="#r64" fill="#084594"/>
<use href="#r65" fill="#6baed6"/>
<use href="#r66" fill="#2171b5"/>
<use href="#r67" fill="#6baed6"/>
<use href="#r68" fill="#bdd7e7"/>
<use href="#thin" stroke-width="1.2"/><use href="#thick" stroke-width="2.15"/>
<g class="lb">
<text x="774" y="331.6">Nord</text>
<text x="648" y="358">Nordwest</text>
<text x="807" y="385.6">Nordost</text>
<text x="617.6" y="429.1">Alt-West</text>
<text x="721.5" y="456.1">Mitte</text>
<text x="862" y="479.3">Ost</text>
<text x="579.2" y="509.8">West</text>
<text x="733.2" y="546.5">Süd</text>
<text x="830.7" y="558.5">Südost</text>
<text x="629" y="584.8">Südwest</text>
</g>
</g>
<g transform="translate(544,244) scale(1,1) translate(-544,-244)">
<use href="#r2" fill="#eff3ff"/>
<use href="#r3" fill="#6baed6"/>
<use href="#r4" fill="#bdd7e7"/>
<use href="#r5" fill="#eff3ff"/>
<use href="#r6" fill="#bdd7e7"/>
<use href="#r7" fill="#6baed6"/>
<use href="#r8" fill="#bdd7e7"/>
<use href="#r9" fill="#6baed6"/>
<use href="#r10" fill="#2171b5"/>
<use href="#r11" fill="#6baed6"/>
<use href="#r12" fill="#2171b5"/>
<use href="#r13" fill="#6baed6"/>
<use href="#r14" fill="#6baed6"/>
<use href="#r15" fill="#6baed6"/>
<use href="#r16" fill="#6baed6"/>
<use href="#r17" fill="#6baed6"/>
<use href="#r18" fill="#bdd7e7"/>
<use href="#r19" fill="#084594"/>
<use href="#r20" fill="#6baed6"/>
<use href="#r21" fill="#eff3ff"/>
<use href="#r22" fill="#2171b5"/>
<use href="#r23" fill="#2171b5"/>
<use href="#r24" fill="#6baed6"/>
<use href="#r26" fill="#6baed6"/>
<use href="#r27" fill="#6baed6"/>
<use href="#r28" fill="#084594"/>
<use href="#r29" fill="#084594"/>
<use href="#r30" fill="#2171b5"/>
<use href="#r31" fill="#084594"/>
<use href="#r32" fill="#eff3ff"/>
<use href="#r33" fill="#2171b5"/>
<use href="#r34" fill="#084594"/>
<use href="#r35" fill="#2171b5"/>
<use href="#r36" fill="#bdd7e7"/>
<use href="#r37" fill="#2171b5"/>
<use href="#r38" fill="#084594"/>
<use href="#r39" fill="#2171b5"/>
<use href="#r40" fill="#084594"/>
<use href="#r41" fill="#eff3ff"/>
<use href="#r42" fill="#bdd7e7"/>
<use href="#r43" fill="#2171b5"/>
<use href="#r44" fill="#084594"/>
<use href="#r45" fill="#2171b5"/>
<use href="#r46" fill="#6baed6"/>
<use href="#r47" fill="#6baed6"/>
<use href="#r48" fill="#6baed6"/>
<use href="#r49" fill="#084594"/>
<use href="#r50" fill="#eff3ff"/>
<use href="#r51" fill="#eff3ff"/>
<use href="#r52" fill="#bdd7e7"/>
<use href="#r53" fill="#2171b5"/>
<use href="#r54" fill="#084594"/>
<use href="#r55" fill="#bdd7e7"/>
<use href="#r57" fill="#bdd7e7"/>
<use href="#r58" fill="#eff3ff"/>
<use href="#r59" fill="#6baed6"/>
<use href="#r60" fill="#eff3ff"/>
<use href="#r62" fill="#bdd7e7"/>
<use href="#r64" fill="#bdd7e7"/>
<use href="#r65" fill="#eff3ff"/>
<use href="#r66" fill="#bdd7e7"/>
<use href="#r67" fill="#bdd7e7"/>
<use href="#r68" fill="#eff3ff"/>
<use href="#thin" stroke-width="1.12"/><use href="#thick" stroke-width="2.0"/>
<g class="lb">
<text x="774" y="331.6">Nord</text>
<text x="648" y="358">Nordwest</text>
<text x="807" y="385.6">Nordost</text>
<text x="617.6" y="429.1">Alt-West</text>
<text x="721.5" y="456.1">Mitte</text>
<text x="862" y="479.3">Ost</text>
<text x="579.2" y="509.8">West</text>
<text x="733.2" y="546.5">Süd</text>
<text x="830.7" y="558.5">Südost</text>
<text x="629" y="584.8">Südwest</text>
</g>
</g>
<g transform="translate(990.4,243.5) scale(1,1) translate(-544,-244)">
<use href="#r2" fill="#6baed6"/>
<use href="#r3" fill="#6baed6"/>
<use href="#r4" fill="#6baed6"/>
<use href="#r5" fill="#6baed6"/>
<use href="#r6" fill="#6baed6"/>
<use href="#r7" fill="#6baed6"/>
<use href="#r8" fill="#2171b5"/>
<use href="#r9" fill="#bdd7e7"/>
<use href="#r10" fill="#6baed6"/>
<use href="#r11" fill="#6baed6"/>
<use href="#r12" fill="#084594"/>
<use href="#r13" fill="#6baed6"/>
<use href="#r14" fill="#6baed6"/>
<use href="#r15" fill="#6baed6"/>
<use href="#r16" fill="#6baed6"/>
<use href="#r17" fill="#6baed6"/>
<use href="#r18" fill="#084594"/>
<use href="#r19" fill="#6baed6"/>
<use href="#r20" fill="#6baed6"/>
<use href="#r21" fill="#6baed6"/>
<use href="#r22" fill="#6baed6"/>
<use href="#r23" fill="#bdd7e7"/>
<use href="#r24" fill="#6baed6"/>
<use href="#r26" fill="#6baed6"/>
<use href="#r27" fill="#6baed6"/>
<use href="#r28" fill="#6baed6"/>
<use href="#r29" fill="#6baed6"/>
<use href="#r30" fill="#6baed6"/>
<use href="#r31" fill="#6baed6"/>
<use href="#r32" fill="#6baed6"/>
<use href="#r33" fill="#bdd7e7"/>
<use href="#r34" fill="#6baed6"/>
<use href="#r35" fill="#bdd7e7"/>
<use href="#r36" fill="#6baed6"/>
<use href="#r37" fill="#bdd7e7"/>
<use href="#r38" fill="#6baed6"/>
<use href="#r39" fill="#2171b5"/>
<use href="#r40" fill="#6baed6"/>
<use href="#r41" fill="#bdd7e7"/>
<use href="#r42" fill="#2171b5"/>
<use href="#r43" fill="#bdd7e7"/>
<use href="#r44" fill="#bdd7e7"/>
<use href="#r45" fill="#6baed6"/>
<use href="#r46" fill="#6baed6"/>
<use href="#r47" fill="#2171b5"/>
<use href="#r48" fill="#2171b5"/>
<use href="#r49" fill="#6baed6"/>
<use href="#r50" fill="#eff3ff"/>
<use href="#r51" fill="#2171b5"/>
<use href="#r52" fill="#2171b5"/>
<use href="#r53" fill="#6baed6"/>
<use href="#r54" fill="#6baed6"/>
<use href="#r55" fill="#6baed6"/>
<use href="#r57" fill="#6baed6"/>
<use href="#r58" fill="#6baed6"/>
<use href="#r59" fill="#6baed6"/>
<use href="#r60" fill="#bdd7e7"/>
<use href="#r62" fill="#6baed6"/>
<use href="#r64" fill="#6baed6"/>
<use href="#r65" fill="#6baed6"/>
<use href="#r66" fill="#2171b5"/>
<use href="#r67" fill="#6baed6"/>
<use href="#r68" fill="#bdd7e7"/>
<use href="#thin" stroke-width="1.25"/><use href="#thick" stroke-width="2.2"/>
<g class="lb">
<text x="774" y="331.6">Nord</text>
<text x="648" y="358">Nordwest</text>
<text x="807" y="385.6">Nordost</text>
<text x="617.6" y="429.1">Alt-West</text>
<text x="721.5" y="456.1">Mitte</text>
<text x="862" y="479.3">Ost</text>
<text x="579.2" y="509.8">West</text>
<text x="733.2" y="546.5">Süd</text>
<text x="830.7" y="558.5">Südost</text>
<text x="629" y="584.8">Südwest</text>
</g>
</g>
</svg>
</body></html>
